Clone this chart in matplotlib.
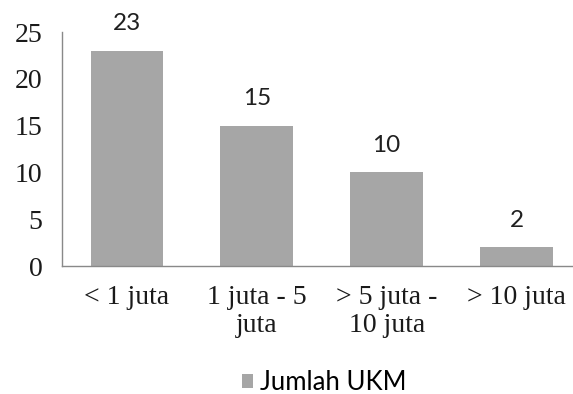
import matplotlib
matplotlib.use("Agg")
import matplotlib.pyplot as plt
from matplotlib.patches import Patch

categories = ["< 1 juta", "1 juta - 5\njuta", "> 5 juta -\n10 juta", "> 10 juta"]
jumlah_ukm = [23, 15, 10, 2]
y_ticks = [0, 5, 10, 15, 20, 25]
series_name = "Jumlah UKM"

bar_color = "#a6a6a6"
axis_color = "#898989"

fig = plt.figure(figsize=(5.73, 3.94), dpi=100)
ax = fig.add_axes([62 / 573, 1 - 266 / 394, 1 - 62 / 573, (266 - 32) / 394])

x = list(range(len(categories)))
ax.bar(x, jumlah_ukm, width=0.56, color=bar_color, zorder=2)

for xi, v in zip(x, jumlah_ukm):
    ax.annotate(str(v), (xi, v), xytext=(0, 19.5), textcoords="offset points",
                ha="center", va="center", fontsize=17.5, family="Lato", color="#202020")

ax.set_ylim(0, 25)
ax.set_xlim(-0.5, 3.435)
ax.set_yticks(y_ticks)
ax.set_xticks(x)
ax.set_xticklabels(categories, family="Liberation Serif", fontsize=20, linespacing=1.12)
ax.set_yticklabels([str(t) for t in y_ticks], family="Liberation Serif", fontsize=20)
ax.tick_params(axis="both", length=0, colors="#1a1a1a")
ax.tick_params(axis="y", pad=14)
ax.tick_params(axis="x", pad=14)

for side in ["top", "right"]:
    ax.spines[side].set_visible(False)
for side in ["left", "bottom"]:
    ax.spines[side].set_color(axis_color)
    ax.spines[side].set_linewidth(1.0)

fig.legend(handles=[Patch(facecolor=bar_color, label=series_name)],
           loc="center", bbox_to_anchor=(324 / 573, 1 - 383 / 394),
           frameon=False, prop={"family": "Lato", "size": 18.5},
           handlelength=0.45, handleheight=0.45, handletextpad=0.25)

fig.savefig("out.png", dpi=100)
